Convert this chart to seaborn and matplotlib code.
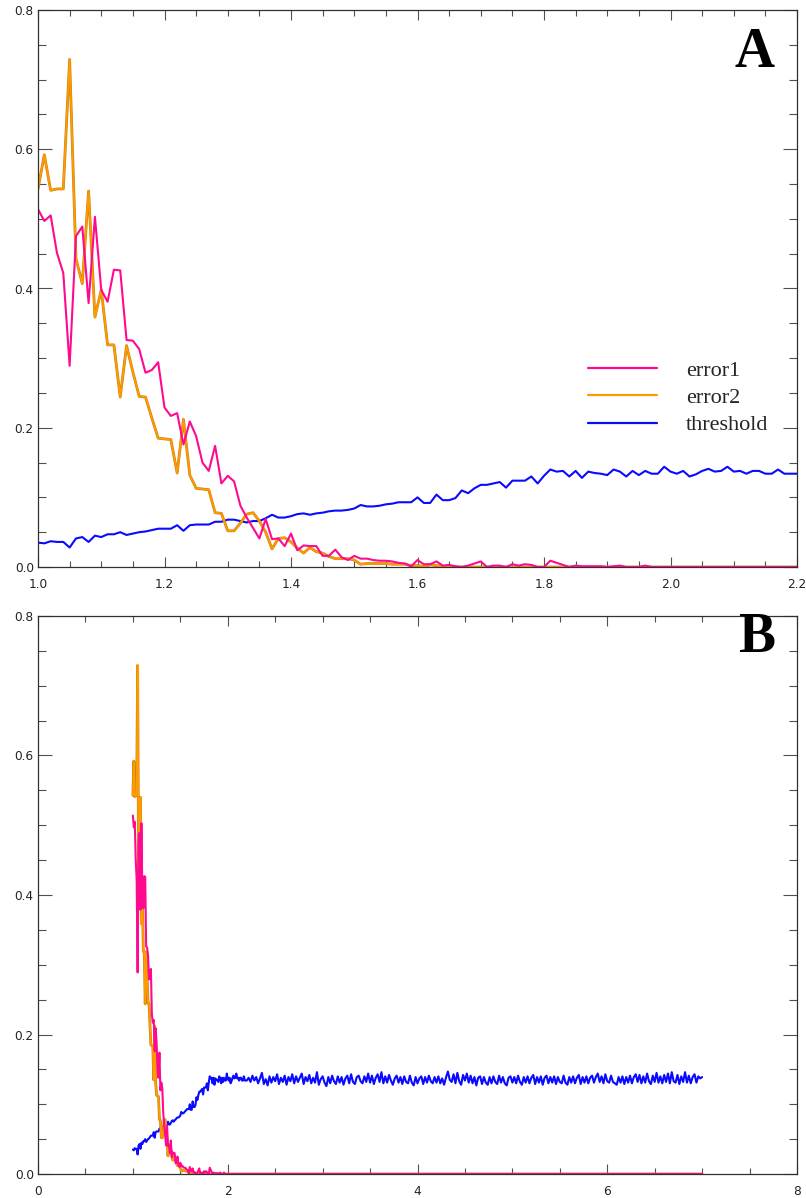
import numpy as np
import pandas as pd
import matplotlib
matplotlib.use("Agg")
import matplotlib.pyplot as plt
import matplotlib.patheffects as pe
from matplotlib.ticker import MultipleLocator, FormatStrFormatter
import seaborn as sns

# ---------------- data ----------------
x_start, x_step = 1.00, 0.01          # panel A grid (1.00 .. 2.20)
error1 = [
    0.514, 0.497, 0.505, 0.451, 0.422, 0.289, 0.475, 0.489, 0.379, 0.503,
    0.398, 0.381, 0.427, 0.426, 0.326, 0.325, 0.313, 0.279, 0.283, 0.294,
    0.229, 0.217, 0.221, 0.176, 0.209, 0.188, 0.150, 0.138, 0.174, 0.120,
    0.131, 0.123, 0.088, 0.071, 0.056, 0.041, 0.069, 0.040, 0.041, 0.030,
    0.048, 0.024, 0.031, 0.030, 0.030, 0.016, 0.016, 0.025, 0.014, 0.010,
    0.016, 0.012, 0.012, 0.010, 0.009, 0.009, 0.008, 0.006, 0.005, 0.001,
    0.010, 0.004, 0.004, 0.008, 0.002, 0.003, 0.001, 0.000, 0.002, 0.005,
    0.008, 0.000, 0.002, 0.002, 0.000, 0.004, 0.002, 0.004, 0.003, 0.000,
    0.000, 0.009, 0.006, 0.003, 0.000, 0.002, 0.001, 0.001, 0.001, 0.001,
    0.000, 0.001, 0.002, 0.000, 0.000, 0.000, 0.002, 0.000, 0.000, 0.000,
    0.000, 0.000, 0.000, 0.000, 0.000, 0.000, 0.000, 0.000, 0.000, 0.000,
    0.000, 0.000, 0.000, 0.000, 0.000, 0.000, 0.000, 0.000, 0.000, 0.000,
    0.000,
]
error2 = [
    0.543, 0.592, 0.541, 0.543, 0.543, 0.729, 0.443, 0.407, 0.540, 0.359,
    0.398, 0.319, 0.319, 0.244, 0.318, 0.280, 0.245, 0.244, 0.214, 0.185,
    0.184, 0.183, 0.135, 0.212, 0.132, 0.113, 0.112, 0.111, 0.078, 0.077,
    0.052, 0.052, 0.063, 0.076, 0.078, 0.066, 0.050, 0.026, 0.041, 0.042,
    0.036, 0.027, 0.020, 0.028, 0.022, 0.020, 0.015, 0.012, 0.012, 0.012,
    0.010, 0.004, 0.005, 0.005, 0.005, 0.005, 0.004, 0.004, 0.004, 0.002,
    0.002, 0.001, 0.003, 0.002, 0.001, 0.000, 0.000, 0.000, 0.000, 0.000,
    0.000, 0.000, 0.000, 0.000, 0.000, 0.000, 0.000, 0.000, 0.000, 0.000,
    0.000, 0.000, 0.000, 0.000, 0.000, 0.000, 0.000, 0.000, 0.000, 0.000,
    0.000, 0.000, 0.000, 0.000, 0.000, 0.000, 0.000, 0.000, 0.000, 0.000,
    0.000, 0.000, 0.000, 0.000, 0.000, 0.000, 0.000, 0.000, 0.000, 0.000,
    0.000, 0.000, 0.000, 0.000, 0.000, 0.000, 0.000, 0.000, 0.000, 0.000,
    0.000,
]
threshold = [
    0.035, 0.034, 0.037, 0.036, 0.036, 0.028, 0.041, 0.043, 0.036, 0.045,
    0.043, 0.047, 0.047, 0.050, 0.046, 0.048, 0.050, 0.051, 0.053, 0.055,
    0.055, 0.055, 0.060, 0.052, 0.060, 0.061, 0.061, 0.061, 0.065, 0.065,
    0.068, 0.068, 0.066, 0.064, 0.066, 0.066, 0.070, 0.075, 0.071, 0.071,
    0.073, 0.076, 0.077, 0.075, 0.077, 0.078, 0.080, 0.081, 0.081, 0.082,
    0.084, 0.089, 0.087, 0.087, 0.088, 0.090, 0.091, 0.093, 0.093, 0.093,
    0.100, 0.092, 0.092, 0.104, 0.096, 0.096, 0.099, 0.110, 0.106, 0.113,
    0.118, 0.118, 0.120, 0.122, 0.114, 0.124, 0.124, 0.124, 0.130, 0.120,
    0.131, 0.140, 0.137, 0.138, 0.130, 0.138, 0.128, 0.137, 0.135, 0.134,
    0.132, 0.140, 0.137, 0.130, 0.138, 0.132, 0.138, 0.134, 0.134, 0.144,
    0.137, 0.134, 0.138, 0.130, 0.133, 0.138, 0.141, 0.137, 0.138, 0.144,
    0.137, 0.138, 0.134, 0.138, 0.138, 0.134, 0.134, 0.140, 0.134, 0.134,
    0.134,
]
# panel B continues the same run out to 7.00 (errors are zero there)
tail_start, tail_step = 2.22, 0.02
threshold_tail = [
    0.138, 0.132, 0.141, 0.134, 0.139, 0.130, 0.137, 0.145, 0.129, 0.136,
    0.127, 0.140, 0.131, 0.139, 0.133, 0.143, 0.129, 0.138, 0.132, 0.141,
    0.128, 0.139, 0.133, 0.143, 0.130, 0.140, 0.132, 0.138, 0.144, 0.129,
    0.139, 0.133, 0.142, 0.130, 0.138, 0.131, 0.146, 0.128, 0.136, 0.140,
    0.131, 0.126, 0.139, 0.130, 0.141, 0.133, 0.129, 0.140, 0.131, 0.139,
    0.128, 0.137, 0.141, 0.130, 0.143, 0.132, 0.129, 0.139, 0.141, 0.133,
    0.130, 0.140, 0.132, 0.144, 0.131, 0.141, 0.129, 0.138, 0.143, 0.132,
    0.146, 0.130, 0.140, 0.131, 0.142, 0.134, 0.128, 0.137, 0.141, 0.131,
    0.139, 0.129, 0.140, 0.132, 0.130, 0.141, 0.131, 0.127, 0.139, 0.130,
    0.137, 0.140, 0.129, 0.139, 0.131, 0.141, 0.133, 0.130, 0.139, 0.131,
    0.140, 0.130, 0.137, 0.128, 0.138, 0.147, 0.135, 0.132, 0.143, 0.130,
    0.145, 0.133, 0.128, 0.142, 0.134, 0.144, 0.131, 0.141, 0.130, 0.139,
    0.127, 0.138, 0.140, 0.129, 0.139, 0.131, 0.128, 0.139, 0.130, 0.140,
    0.132, 0.129, 0.141, 0.131, 0.139, 0.130, 0.127, 0.138, 0.140, 0.131,
    0.139, 0.130, 0.141, 0.132, 0.128, 0.139, 0.131, 0.140, 0.130, 0.138,
    0.142, 0.129, 0.139, 0.131, 0.140, 0.128, 0.138, 0.141, 0.130, 0.139,
    0.131, 0.140, 0.129, 0.139, 0.132, 0.130, 0.141, 0.131, 0.128, 0.139,
    0.131, 0.140, 0.130, 0.138, 0.142, 0.129, 0.139, 0.131, 0.140, 0.130,
    0.138, 0.141, 0.131, 0.139, 0.144, 0.132, 0.140, 0.130, 0.143, 0.133,
    0.131, 0.141, 0.132, 0.130, 0.128, 0.139, 0.131, 0.140, 0.129, 0.139,
    0.131, 0.141, 0.130, 0.139, 0.143, 0.132, 0.142, 0.130, 0.140, 0.131,
    0.144, 0.133, 0.129, 0.141, 0.132, 0.145, 0.131, 0.140, 0.130, 0.142,
    0.132, 0.144, 0.130, 0.146, 0.133, 0.131, 0.142, 0.129, 0.140, 0.132,
    0.146, 0.131, 0.141, 0.130, 0.139, 0.143, 0.131, 0.140, 0.137, 0.139,
]
error_tail = [0.0] * len(threshold_tail)

series_names = ["error1", "error2", "threshold"]
series_colors = {"error1": "#ff0a8f", "error2": "#ff9a00", "threshold": "#0a0aff"}
panel_letters = ["A", "B"]
xlims = [(1.0, 2.2), (0.0, 8.0)]
x_major = [0.2, 2.0]
x_minor = [0.05, 0.5]
x_fmt = ["%.1f", "%d"]

# ---------------- frames ----------------
xa = np.round(x_start + x_step * np.arange(len(error1)), 2)
xt = np.round(tail_start + tail_step * np.arange(len(threshold_tail)), 2)
df_a = pd.DataFrame({"x": xa, "error1": error1, "error2": error2, "threshold": threshold})
df_t = pd.DataFrame({"x": xt, "error1": error_tail, "error2": error_tail, "threshold": threshold_tail})
df_b = pd.concat([df_a, df_t], ignore_index=True)
long_a = df_a.melt(id_vars="x", var_name="series", value_name="value")
long_b = df_b.melt(id_vars="x", var_name="series", value_name="value")

# ---------------- figure ----------------
sns.set_theme(style="ticks")
plt.rcParams["font.family"] = ["DejaVu Sans"]

W, H = 806, 1198
fig = plt.figure(figsize=(W / 100, H / 100), dpi=100)
left, right = 38 / W, 797 / W
boxes = [(10, 567), (616, 1174)]
axes = []
for top, bot in boxes:
    axes.append(fig.add_axes([left, 1 - bot / H, right - left, (bot - top) / H]))

letter_y = [0.897, 0.935]
draw_order = ["threshold", "error2", "error1"]
for i, (ax, long) in enumerate(zip(axes, [long_a, long_b])):
    for name in draw_order:
        sub = long[long["series"] == name]
        kw = {}
        lw = 1.5
        if name == "error2":
            lw = 1.3
            kw["path_effects"] = [pe.Stroke(linewidth=2.0, foreground="#c8820f"), pe.Normal()]
        sns.lineplot(data=sub, x="x", y="value", color=series_colors[name], ax=ax,
                     estimator=None, sort=False, linewidth=lw, label=name, legend=False, **kw)
    ax.set_xlim(*xlims[i])
    ax.set_ylim(0.0, 0.8)
    ax.set_xlabel("")
    ax.set_ylabel("")
    ax.xaxis.set_major_locator(MultipleLocator(x_major[i]))
    ax.xaxis.set_minor_locator(MultipleLocator(x_minor[i]))
    ax.xaxis.set_major_formatter(FormatStrFormatter(x_fmt[i]))
    ax.yaxis.set_major_locator(MultipleLocator(0.2))
    ax.yaxis.set_minor_locator(MultipleLocator(0.05))
    ax.yaxis.set_major_formatter(FormatStrFormatter("%.1f"))
    for s in ax.spines.values():
        s.set_visible(True)
        s.set_linewidth(0.9)
        s.set_color("#303030")
    ax.tick_params(axis="x", which="major", direction="in", length=7.5, width=0.8,
                   top=True, bottom=True, color="#505050", labelsize=8.7, pad=8,
                   labelcolor="#222222")
    ax.tick_params(axis="x", which="minor", direction="in", length=4, width=0.8,
                   top=True, bottom=True, color="#505050")
    ax.tick_params(axis="y", which="major", direction="in", length=10, width=0.8,
                   left=True, right=True, color="#505050", labelsize=8.7, pad=3,
                   labelcolor="#222222")
    ax.tick_params(axis="y", which="minor", direction="in", length=6, width=0.8,
                   left=True, right=True, color="#505050")
    ax.text(0.971, letter_y[i], panel_letters[i], transform=ax.transAxes,
            ha="right", va="baseline", fontsize=40, fontweight="bold",
            family=["Liberation Serif", "DejaVu Serif"], color="black")

# legend in panel A
ax = axes[0]
handles, labels = ax.get_legend_handles_labels()
order = [labels.index(n) for n in series_names]
leg = ax.legend([handles[k] for k in order], [labels[k] for k in order],
                loc="upper left", bbox_to_anchor=(0.7246, 0.371), frameon=False,
                borderpad=0, borderaxespad=0, handlelength=3.1, handletextpad=1.3,
                labelspacing=0.30, prop={"family": "Liberation Serif", "size": 16})
for h in leg.get_lines():
    h.set_path_effects([])
    h.set_linewidth(1.6)

fig.savefig("out.png", dpi=100)
